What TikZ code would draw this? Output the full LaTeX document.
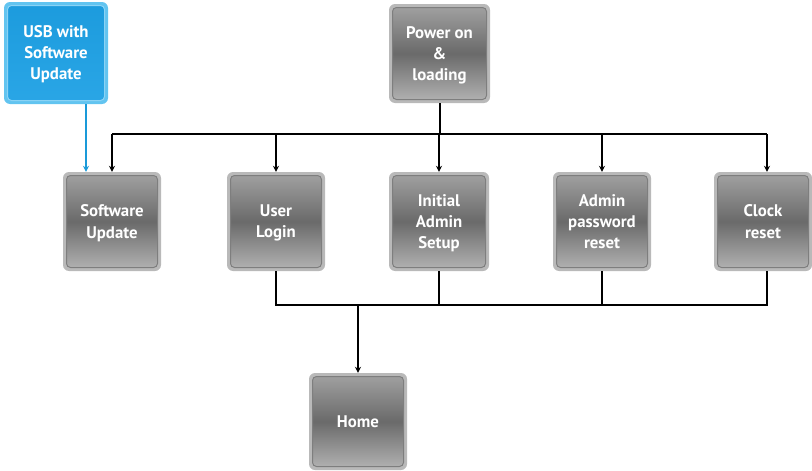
\documentclass[tikz,border=0pt]{standalone}
\usepackage{fontspec}
\setmainfont{PT Sans}[BoldFont={PT Sans Bold}]
\usetikzlibrary{arrows.meta}
\definecolor{outergray}{HTML}{B9B9B9}
\definecolor{gtop}{HTML}{A3A3A3}
\definecolor{gmid}{HTML}{6A6A6A}
\definecolor{gbot}{HTML}{B5B5B5}
\definecolor{gborder}{HTML}{7E7E7E}
\definecolor{outerblue}{HTML}{62C4F0}
\definecolor{btop}{HTML}{1C9BDD}
\definecolor{bbot}{HTML}{2AA6E6}
\definecolor{bborder}{HTML}{8AD3F5}
\definecolor{bluewire}{HTML}{1A9AD9}
\tikzset{
  boxbase/.style={rectangle, rounded corners=6pt, text=white,
    font=\fontsize{16.8}{21}\selectfont\bfseries, align=center, inner sep=0pt,
    text depth=0pt},
  gbox/.style={boxbase, fill=outergray, minimum width=98pt, minimum height=99pt,
    path picture={\shade[top color=gtop, bottom color=gbot, middle color=gmid,
      draw=gborder, line width=1pt, rounded corners=4pt]
      ([shift={(3.5pt,-3.5pt)}]path picture bounding box.north west) rectangle
      ([shift={(-3.5pt,3.5pt)}]path picture bounding box.south east);}},
  bbox/.style={boxbase, fill=outerblue, minimum width=104pt, minimum height=102pt,
    path picture={\shade[top color=btop, bottom color=bbot,
      draw=bborder, line width=1pt, rounded corners=4pt]
      ([shift={(3.5pt,-3.5pt)}]path picture bounding box.north west) rectangle
      ([shift={(-3.5pt,3.5pt)}]path picture bounding box.south east);}},
  wire/.style={line width=2pt, black},
  arr/.style={wire, -{Stealth[length=6pt,width=6pt]}},
  barr/.style={line width=1.6pt, bluewire, -{Stealth[length=6pt,width=6pt]}}
}
\begin{document}
\begin{tikzpicture}[x=1pt,y=-1pt]
\useasboundingbox (0,0) rectangle (812,471);
\node[bbox] (usb) at (56,53) {USB with\\Software\\Update};
\node[gbox, minimum width=101pt] (power) at (439.5,53.5) {Power on\\\&\\loading};
\node[gbox] (sw) at (112,221.5) {Software\\Update};
\node[gbox] (ul) at (276,221.5) {User\\Login};
\node[gbox, minimum width=100pt] (ia) at (439,221.5) {Initial\\Admin\\Setup};
\node[gbox] (ap) at (602,221.5) {Admin\\password\\reset};
\node[gbox] (cr) at (763,221.5) {Clock\\reset};
\node[gbox, minimum height=97pt] (home) at (358,421.5) {Home};
\coordinate (b1) at (112,134);
\coordinate (b5) at (767,134);
\coordinate (l1) at (276,305);
\coordinate (l5) at (767,305);
% top bus
\draw[wire] (power.south) -- (power.south |- b1);
\draw[wire] (b1) -- (b5);
\draw[arr] (b1) -- (sw.north);
\draw[arr] (ul.north |- b1) -- (ul.north);
\draw[arr] (ia.north |- b1) -- (ia.north);
\draw[arr] (ap.north |- b1) -- (ap.north);
\draw[arr] (b5) -- (b5 |- cr.north);
% bottom bus
\draw[wire] (ul.south) -- (l1) -- (l5) -- (l5 |- cr.south);
\draw[wire] (ia.south) -- (ia.south |- l1);
\draw[wire] (ap.south) -- (ap.south |- l1);
\draw[arr] (home.north |- l1) -- (home.north);
% blue
\draw[barr] ([xshift=30pt]usb.south) -- ([xshift=30pt]usb.south |- sw.north);
\end{tikzpicture}
\end{document}
